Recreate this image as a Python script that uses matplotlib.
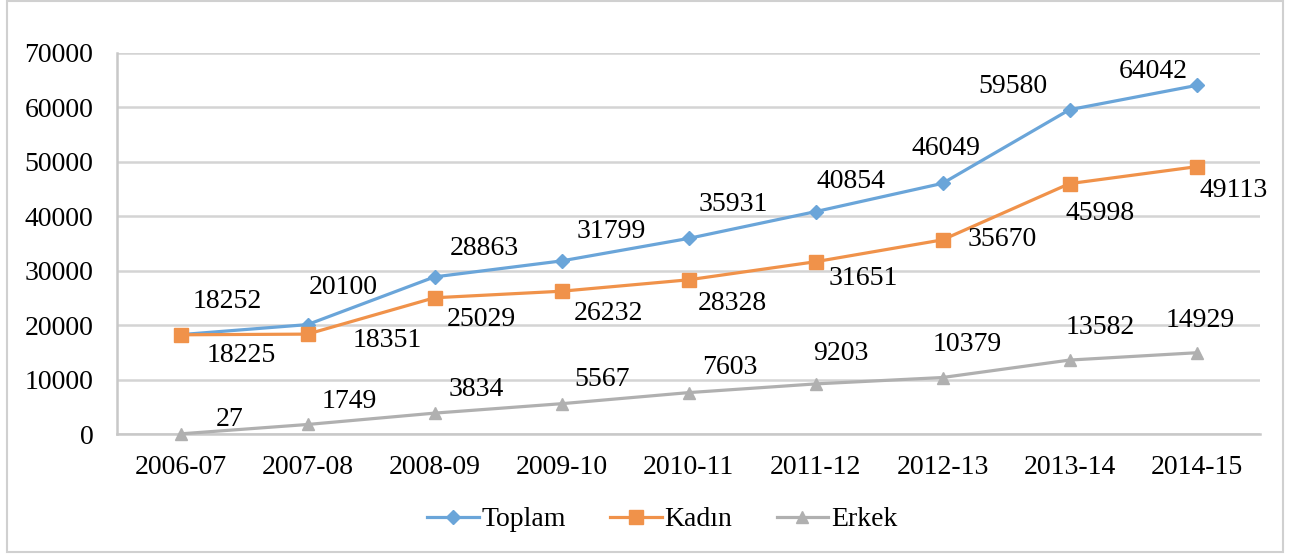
import matplotlib.pyplot as plt
from matplotlib.patches import Rectangle

# Data
years = ["2006-07", "2007-08", "2008-09", "2009-10", "2010-11",
         "2011-12", "2012-13", "2013-14", "2014-15"]
toplam = [18252, 20100, 28863, 31799, 35931, 40854, 46049, 59580, 64042]
kadin = [18225, 18351, 25029, 26232, 28328, 31651, 35670, 45998, 49113]
erkek = [27, 1749, 3834, 5567, 7603, 9203, 10379, 13582, 14929]

# label offsets in pixels (dx, dy) per point
off_toplam = [(47, 33), (36, 37), (50, 28), (50, 29), (45, 34), (35, 30), (3, 35), (-57, 23), (-43, 14)]
off_kadin = [(61, -21), (80, -6), (47, -22), (47, -22), (44, -24), (48, -17), (60, 0), (31, -30), (37, -24)]
off_erkek = [(49, 14), (42, 23), (42, 24), (41, 24), (41, 25), (25, 30), (25, 33), (31, 33), (4, 32)]

plt.rcParams['font.family'] = ['Liberation Serif', 'DejaVu Serif']
FS = 20

fig = plt.figure(figsize=(12.93, 5.55), dpi=100)
ax = fig.add_axes([117 / 1293, 121 / 555, 1143 / 1293, 381 / 555])

# outer frame of the chart
fig.patches.append(Rectangle((7 / 1293, 3 / 555), 1276 / 1293, 551 / 555,
                             transform=fig.transFigure, fill=False,
                             edgecolor='#D0D0D0', linewidth=1.5))

x = list(range(len(years)))
series = [
    ("Toplam", toplam, '#6AA5D9', 'D', 7, off_toplam),
    ("Kadın", kadin, '#F0924A', 's', 9.5, off_kadin),
    ("Erkek", erkek, '#B0B0B0', '^', 9, off_erkek),
]
for name, vals, col, mk, ms, offs in series:
    ax.plot(x, vals, color=col, marker=mk, markersize=ms, linewidth=2.3,
            label=name, clip_on=False, zorder=3)
    for xi, v, (dx, dy) in zip(x, vals, offs):
        ax.annotate(str(v), (xi, v), xytext=(dx, dy), textcoords='offset pixels',
                    ha='center', va='center', fontsize=FS, color='black')

ax.set_xlim(-0.5, len(years) - 0.5)
ax.set_ylim(0, 70000)
ax.set_yticks(range(0, 70001, 10000))
ax.set_xticks(x)
ax.set_xticklabels(years)
ax.tick_params(axis='both', length=0, labelsize=FS, colors='black')
ax.tick_params(axis='y', pad=17)
ax.tick_params(axis='x', pad=15)

ax.grid(axis='y', color='#D4D4D4', linewidth=1.8)
ax.set_axisbelow(True)
for s in ['top', 'right']:
    ax.spines[s].set_visible(False)
for s in ['left', 'bottom']:
    ax.spines[s].set_color('#C8C8C8')
    ax.spines[s].set_linewidth(1.8)

ax.legend(loc='center', bbox_to_anchor=(0.477, -0.225), ncol=3, frameon=False,
          fontsize=FS, handlelength=1.85, handletextpad=0.1, columnspacing=1.6)

fig.savefig('out.png', dpi=100)
